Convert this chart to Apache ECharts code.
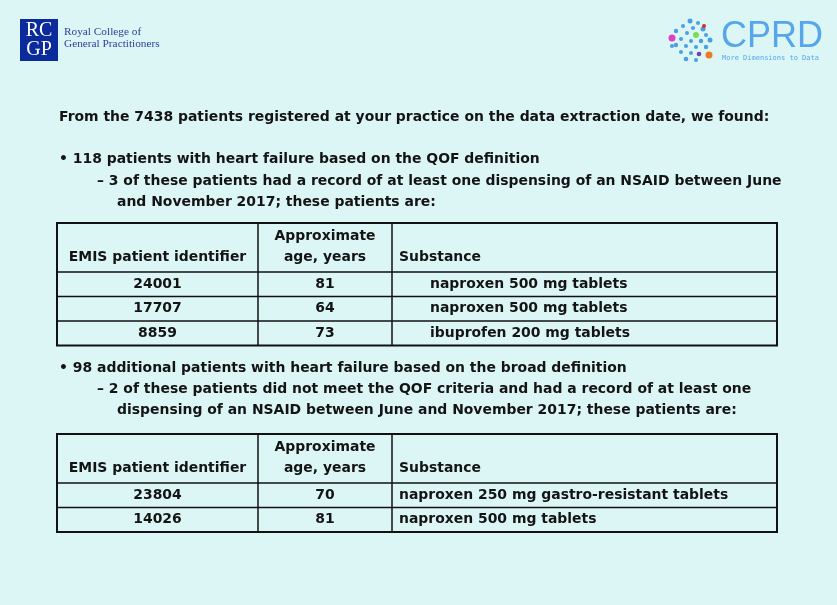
<!DOCTYPE html>
<html><head><meta charset="utf-8">
<script src="https://cdn.jsdelivr.net/npm/echarts@6/dist/echarts.min.js"></script>
<style>html,body{margin:0;padding:0;background:#dcf6f6}#c{width:837px;height:605px}</style>
</head><body><div id="c"></div>
<script>
const introText = "From the 7438 patients registered at your practice on the data extraction date, we found:";
const bullet1 = "• 118 patients with heart failure based on the QOF definition";
const sub1 = ["– 3 of these patients had a record of at least one dispensing of an NSAID between June", "and November 2017; these patients are:"];
const bullet2 = "• 98 additional patients with heart failure based on the broad definition";
const sub2 = ["– 2 of these patients did not meet the QOF criteria and had a record of at least one", "dispensing of an NSAID between June and November 2017; these patients are:"];
const headers = ["EMIS patient identifier", "Approximate\nage, years", "Substance"];
const table1Ids = ["24001", "17707", "8859"];
const table1Ages = ["81", "64", "73"];
const table1Substances = ["naproxen 500 mg tablets", "naproxen 500 mg tablets", "ibuprofen 200 mg tablets"];
const table2Ids = ["23804", "14026"];
const table2Ages = ["70", "81"];
const table2Substances = ["naproxen 250 mg gastro-resistant tablets", "naproxen 500 mg tablets"];

const FONT = '"DejaVu Sans"';
const FS = 13.95;
const INK = '#141414';
const chart = echarts.init(document.getElementById('c'), null, {renderer: 'canvas'});
const g = [];
function txt(x, y, s, opt) {
  g.push(Object.assign({type: 'text', x: x, y: y, style: Object.assign({text: s, fill: INK, font: 'bold ' + FS + 'px ' + FONT, textVerticalAlign: 'middle', textAlign: 'left'}, opt || {})}));
}
function line(x1, y1, x2, y2, w) {
  g.push({type: 'line', shape: {x1: x1, y1: y1, x2: x2, y2: y2}, style: {stroke: '#111', lineWidth: w || 1.5}});
}
function table(top, headerBottom, rowH, ids, ages, subs, subX) {
  const L = 57, R = 777, C1 = 258, C2 = 392;
  const n = ids.length;
  const bottom = headerBottom + rowH * n;
  g.push({type: 'rect', shape: {x: L, y: top, width: R - L, height: bottom - top}, style: {fill: 'none', stroke: '#111', lineWidth: 2}});
  line(C1, top, C1, bottom, 1.5);
  line(C2, top, C2, bottom, 1.5);
  line(L, headerBottom, R, headerBottom, 1.5);
  for (let i = 1; i < n; i++) line(L, headerBottom + rowH * i, R, headerBottom + rowH * i, 1.5);
  txt((L + C1) / 2, headerBottom - 15, headers[0], {textAlign: 'center'});
  txt((C1 + C2) / 2, headerBottom - 36, headers[1].split('\n')[0], {textAlign: 'center'});
  txt((C1 + C2) / 2, headerBottom - 15, headers[1].split('\n')[1], {textAlign: 'center'});
  txt(C2 + 7, headerBottom - 15, headers[2]);
  for (let i = 0; i < n; i++) {
    const cy = headerBottom + rowH * i + rowH / 2;
    txt((L + C1) / 2, cy, ids[i], {textAlign: 'center'});
    txt((C1 + C2) / 2, cy, ages[i], {textAlign: 'center'});
    txt(subX, cy, subs[i]);
  }
}
// Logos
g.push({type: 'rect', shape: {x: 20, y: 19, width: 38, height: 42}, style: {fill: '#0b2b9c'}});
g.push({type: 'text', x: 39, y: 31, style: {text: 'RC', fill: '#fff', font: '20px "Liberation Serif"', textAlign: 'center', textVerticalAlign: 'middle'}});
g.push({type: 'text', x: 39, y: 50, style: {text: 'GP', fill: '#fff', font: '20px "Liberation Serif"', textAlign: 'center', textVerticalAlign: 'middle'}});
g.push({type: 'text', x: 64, y: 32, style: {text: 'Royal College of', fill: '#2a3f9e', font: '11.3px "Liberation Serif"', textVerticalAlign: 'middle'}});
g.push({type: 'text', x: 64, y: 44, style: {text: 'General Practitioners', fill: '#2a3f9e', font: '11.3px "Liberation Serif"', textVerticalAlign: 'middle'}});
// CPRD dots
const dots = [[690,21,2.5],[698,23,2],[683,26,2],[693,28,2],[703,29,2.5],[676,31,2.2],[687,33,2],[696,35,3,'#7ed957'],[706,35,2],[672,38,3.5,'#e040c8'],[681,39,2],[691,41,2],[701,41,2.2],[710,40,2.5],[676,45,2.2],[686,46,2],[696,47,2],[706,47,2.2],[681,52,2],[691,53,2],[699,54,2.3,'#7040c0'],[709,55,3.5,'#f07a20'],[686,59,2.3],[696,60,2],[704,26,2,'#d03030'],[672,46,2]];
dots.forEach(d => g.push({type: 'circle', shape: {cx: d[0], cy: d[1], r: d[2]}, style: {fill: d[3] || '#4a9fe0'}}));
g.push({type: 'text', x: 721, y: 37, style: {text: 'CPRD', fill: '#55a6ea', font: '36px "Liberation Sans"', textVerticalAlign: 'middle'}});
g.push({type: 'text', x: 722, y: 58, style: {text: 'More Dimensions to Data', fill: '#55a6ea', font: '7px "DejaVu Sans Mono"', textVerticalAlign: 'middle'}});
// Texts
txt(59, 117, introText);
txt(59, 159, bullet1);
txt(97, 181, sub1[0]);
txt(117, 202, sub1[1]);
table(223, 272, 24.5, table1Ids, table1Ages, table1Substances, 430);
txt(59, 368, bullet2);
txt(97, 389, sub2[0]);
txt(117, 410, sub2[1]);
table(434, 483, 24.5, table2Ids, table2Ages, table2Substances, 399);

chart.setOption({backgroundColor: '#dcf6f6', graphic: g});
</script></body></html>
